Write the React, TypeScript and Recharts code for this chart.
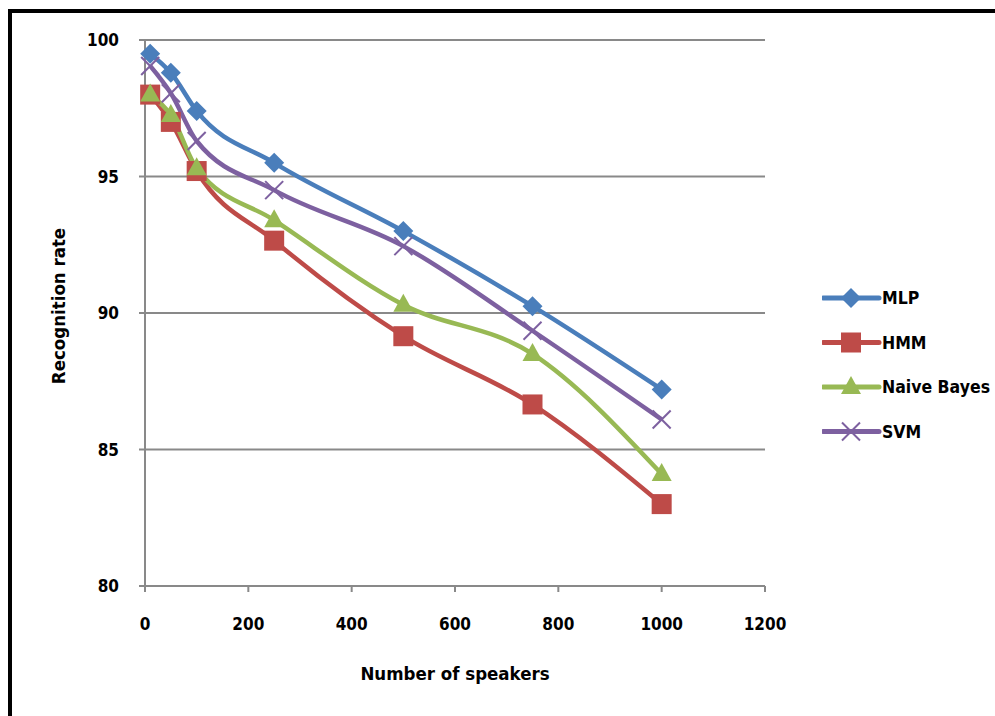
import React from "react";
import {
  LineChart,
  Line,
  XAxis,
  YAxis,
  CartesianGrid,
} from "recharts";

const FONT = "'Liberation Sans Narrow', 'DejaVu Sans Condensed', 'DejaVu Sans', sans-serif";

const speakers = [10, 50, 100, 250, 500, 750, 1000];
const mlp = [99.5, 98.8, 97.4, 95.5, 93.0, 90.25, 87.2];
const hmm = [98.0, 97.0, 95.2, 92.65, 89.15, 86.65, 83.0];
const naiveBayes = [98.0, 97.25, 95.3, 93.4, 90.3, 88.5, 84.1];
const svm = [99.05, 98.05, 96.3, 94.5, 92.45, 89.35, 86.1];

const xTicks = [0, 200, 400, 600, 800, 1000, 1200];
const yTicks = [80, 85, 90, 95, 100];

const seriesInfo = [
  { key: "mlp", name: "MLP", color: "#4a7ebb", marker: "diamond" },
  { key: "hmm", name: "HMM", color: "#be4b48", marker: "square" },
  { key: "nb", name: "Naive Bayes", color: "#98b954", marker: "triangle" },
  { key: "svm", name: "SVM", color: "#7d60a0", marker: "cross" },
];

const data = speakers.map((s, i) => ({
  speakers: s,
  mlp: mlp[i],
  hmm: hmm[i],
  nb: naiveBayes[i],
  svm: svm[i],
}));

function Marker({ type, cx, cy, color }: { type: string; cx: number; cy: number; color: string }) {
  if (type === "diamond") {
    const r = 10;
    return (
      <polygon
        points={`${cx},${cy - r} ${cx + r},${cy} ${cx},${cy + r} ${cx - r},${cy}`}
        fill={color}
      />
    );
  }
  if (type === "square") {
    return <rect x={cx - 10} y={cy - 10} width={20} height={20} fill={color} />;
  }
  if (type === "triangle") {
    return (
      <polygon
        points={`${cx},${cy - 11} ${cx + 10},${cy + 7} ${cx - 10},${cy + 7}`}
        fill={color}
      />
    );
  }
  const r = 9;
  return (
    <g stroke={color} strokeWidth={2}>
      <line x1={cx - r} y1={cy - r} x2={cx + r} y2={cy + r} />
      <line x1={cx - r} y1={cy + r} x2={cx + r} y2={cy - r} />
    </g>
  );
}

const makeDot = (type: string, color: string) => (props: any) => (
  <Marker key={`${type}-${props.index}`} type={type} cx={props.cx} cy={props.cy} color={color} />
);

function LegendBox() {
  return (
    <svg width={172} height={180}>
      {seriesInfo.map((s, i) => {
        const y = 13 + i * 44.5;
        return (
          <g key={s.key}>
            <line x1={1} y1={y} x2={57} y2={y} stroke={s.color} strokeWidth={5} strokeLinecap="round" />
            <Marker type={s.marker} cx={29} cy={y} color={s.color} />
            <text
              x={60}
              y={y}
              dominantBaseline="central"
              fontFamily={FONT}
              fontWeight="bold"
              fontSize={17.5}
              fill="#000"
            >
              {s.name}
            </text>
          </g>
        );
      })}
    </svg>
  );
}

const tickStyle = { fill: "#000", fontFamily: FONT, fontWeight: "bold", fontSize: 17 };

export default function App() {
  return (
    <div
      style={{
        position: "absolute",
        left: 0,
        top: 0,
        width: 995,
        height: 716,
        background: "#fff",
        overflow: "hidden",
        fontStretch: "condensed",
      }}
    >
      <div
        style={{
          position: "absolute",
          left: 8,
          top: 9,
          width: 995,
          height: 716,
          borderLeft: "4px solid #000",
          borderTop: "4px solid #000",
        }}
      />
      <div style={{ position: "absolute", left: 0, top: 0 }}>
        <LineChart
          width={995}
          height={716}
          data={data}
          margin={{ top: 40, right: 230, left: 45, bottom: 90 }}
        >
          <CartesianGrid vertical={false} stroke="#898989" strokeWidth={2} />
          <XAxis
            dataKey="speakers"
            type="number"
            domain={[0, 1200]}
            ticks={xTicks}
            height={40}
            stroke="#898989"
            strokeWidth={2}
            tickSize={6}
            tickMargin={26}
            tick={tickStyle}
            label={{
              content: (p: any) => {
                const vb = p.viewBox;
                return (
                  <text
                    x={vb.x + vb.width / 2}
                    y={vb.y + 87}
                    textAnchor="middle"
                    dominantBaseline="central"
                    fontFamily={FONT}
                    fontWeight="bold"
                    fontSize={18.5}
                    fill="#000"
                  >
                    Number of speakers
                  </text>
                );
              },
            }}
          />
          <YAxis
            type="number"
            domain={[80, 100]}
            ticks={yTicks}
            width={100}
            stroke="#898989"
            strokeWidth={2}
            tickSize={6}
            tickMargin={20}
            tick={tickStyle}
            label={{
              content: (p: any) => {
                const vb = p.viewBox;
                const x = vb.x + 13;
                const y = vb.y + vb.height / 2 - 7;
                return (
                  <text
                    x={x}
                    y={y}
                    transform={`rotate(-90 ${x} ${y})`}
                    textAnchor="middle"
                    dominantBaseline="central"
                    fontFamily={FONT}
                    fontWeight="bold"
                    fontSize={18.5}
                    fill="#000"
                  >
                    Recognition rate
                  </text>
                );
              },
            }}
          />
          {seriesInfo.map((s) => (
            <Line
              key={s.key}
              type="monotone"
              dataKey={s.key}
              name={s.name}
              stroke={s.color}
              strokeWidth={4.5}
              dot={makeDot(s.marker, s.color)}
              activeDot={false}
              isAnimationActive={false}
            />
          ))}
        </LineChart>
      </div>
      <div style={{ position: "absolute", left: 822, top: 285 }}>
        <LegendBox />
      </div>
    </div>
  );
}
